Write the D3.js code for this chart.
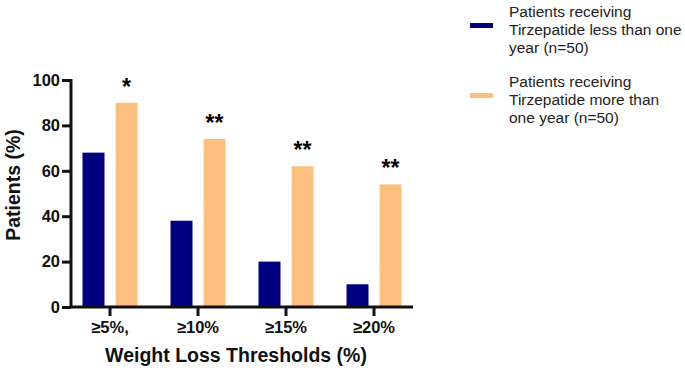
<html>
<head>
<meta charset="utf-8">
<script src="https://cdn.jsdelivr.net/npm/d3@7"></script>
<style>
  body { margin: 0; background: #fff; }
  text { font-family: "Liberation Sans", Arial, sans-serif; }
  .axis path, .axis line { stroke: #111; stroke-width: 3px; }
</style>
</head>
<body>
<div id="viz"></div>
<script>
var categories = ["≥5%,", "≥10%", "≥15%", "≥20%"];
var lessThanYear = [68, 38, 20, 10];
var moreThanYear = [90, 74, 62, 54];
var stars = ["*", "**", "**", "**"];
var yTicks = [0, 20, 40, 60, 80, 100];
var seriesNames = [
  ["Patients receiving", "Tirzepatide less than one", "year  (n=50)"],
  ["Patients receiving", "Tirzepatide more than", "one year (n=50)"]
];
var colors = ["#000080", "#fdbf7f"];

var width = 685, height = 371;
var svg = d3.select("#viz").append("svg")
  .attr("width", width).attr("height", height);

var x = d3.scaleBand().domain(categories).range([66, 418]).padding(0);
var y = d3.scaleLinear().domain([0, 100]).range([307, 80]);
var barW = 22, gap = 11;

// bars
categories.forEach(function(c, i) {
  var cx = x(c) + x.bandwidth() / 2;
  svg.append("rect")
    .attr("x", cx - gap / 2 - barW).attr("y", y(lessThanYear[i]))
    .attr("width", barW).attr("height", y(0) - y(lessThanYear[i]))
    .attr("fill", colors[0]);
  svg.append("rect")
    .attr("x", cx + gap / 2).attr("y", y(moreThanYear[i]))
    .attr("width", barW).attr("height", y(0) - y(moreThanYear[i]))
    .attr("fill", colors[1]);
  svg.append("text")
    .attr("x", cx + gap / 2 + barW / 2).attr("y", y(moreThanYear[i]) - 8)
    .attr("text-anchor", "middle")
    .style("font-size", "23px").style("font-weight", "bold")
    .text(stars[i]);
});

// axes
var yAxis = svg.append("g").attr("class", "axis").attr("transform", "translate(71,0)")
  .call(d3.axisLeft(y).tickValues(yTicks).tickSize(9).tickPadding(2));
var xAxis = svg.append("g").attr("class", "axis").attr("transform", "translate(0,307)")
  .call(d3.axisBottom(x).tickSize(9).tickPadding(5));
xAxis.select(".domain").attr("d", "M70,0H413");
yAxis.select(".domain").attr("d", "M0,79V308");
svg.selectAll(".tick text").attr("fill", "#111")
  .style("font-size", "16.5px").style("font-weight", "bold")
  .style("font-family", "'Liberation Sans', Arial, sans-serif");

// axis titles
svg.append("text")
  .attr("transform", "translate(20,185) rotate(-90)")
  .attr("text-anchor", "middle")
  .style("font-size", "19.5px").style("font-weight", "bold").attr("fill", "#111")
  .text("Patients (%)");
svg.append("text")
  .attr("x", 236).attr("y", 362)
  .attr("text-anchor", "middle")
  .style("font-size", "19.5px").style("font-weight", "bold").attr("fill", "#111")
  .text("Weight Loss Thresholds (%)");

// legend
var legendTop = [12, 82];
seriesNames.forEach(function(lines, k) {
  svg.append("rect")
    .attr("x", 470).attr("y", legendTop[k] + 11).attr("width", 23).attr("height", 5)
    .attr("fill", colors[k]);
  lines.forEach(function(t, j) {
    svg.append("text")
      .attr("x", 509).attr("y", legendTop[k] + 5 + j * 18)
      .style("font-size", "15.5px").attr("fill", "#222")
      .text(t);
  });
});
</script>
</body>
</html>
